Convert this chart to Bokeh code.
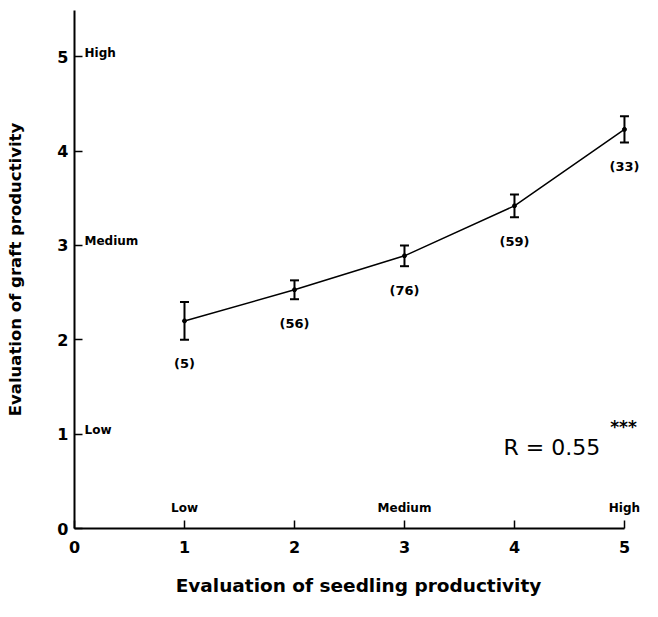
from bokeh.plotting import figure
from bokeh.models import ColumnDataSource, Whisker, TeeHead, FixedTicker, Label, Range1d
from bokeh.core.properties import value
from bokeh.embed import file_html
from bokeh.resources import INLINE

# data
seedling = [1, 2, 3, 4, 5]
graft_mean = [2.20, 2.53, 2.89, 3.42, 4.23]
graft_err = [0.20, 0.10, 0.11, 0.12, 0.14]
counts = ["(5)", "(56)", "(76)", "(59)", "(33)"]
level_names = ["Low", "Medium", "High"]
level_pos = [1, 3, 5]
tick_vals = [0, 1, 2, 3, 4, 5]

FONT = "DejaVu Sans"

p = figure(width=642, height=601, output_backend="svg", toolbar_location=None,
           x_range=Range1d(0, 5.164), y_range=Range1d(0, 5.49),
           min_border_left=74, min_border_right=0, min_border_top=10, min_border_bottom=73)
p.grid.visible = False
p.outline_line_color = None
p.background_fill_color = "white"

for ax in (p.xaxis[0], p.yaxis[0]):
    ax.ticker = FixedTicker(ticks=tick_vals)
    ax.minor_tick_line_color = None
    ax.major_tick_out = 0
    ax.major_tick_in = 8
    ax.major_tick_line_width = 1.5
    ax.axis_line_width = 2
    ax.axis_line_color = "black"
    ax.major_tick_line_color = "black"
    ax.major_label_text_font = FONT
    ax.major_label_text_font_style = "bold"
    ax.major_label_text_font_size = "16px"
    ax.major_label_text_color = "black"
    ax.axis_label_text_font = FONT
    ax.axis_label_text_font_style = "bold"
    ax.axis_label_text_color = "black"

p.xaxis.bounds = (0, 5)
p.xaxis.major_label_standoff = 12
p.xaxis.axis_label = "Evaluation of seedling productivity"
p.xaxis.axis_label_text_font_size = "18.5px"
p.xaxis.axis_label_standoff = 19
p.yaxis.major_label_standoff = 6
p.yaxis.axis_label = "Evaluation of graft productivity"
p.yaxis.axis_label_text_font_size = "16.5px"
p.yaxis.axis_label_standoff = 29

upper = [m + e for m, e in zip(graft_mean, graft_err)]
lower = [m - e for m, e in zip(graft_mean, graft_err)]
src = ColumnDataSource(dict(x=seedling, y=graft_mean, upper=upper, lower=lower, label=counts))

p.line("x", "y", source=src, line_color="black", line_width=1.5)
p.scatter("x", "y", source=src, size=4, color="black")
w = Whisker(source=src, base="x", upper="upper", lower="lower",
            line_color="black", line_width=2,
            upper_head=TeeHead(size=9, line_width=2, line_color="black"),
            lower_head=TeeHead(size=9, line_width=2, line_color="black"))
p.add_layout(w)

p.text("x", "lower", text="label", source=src, y_offset=24,
       text_align="center", text_baseline="middle",
       text_font=value(FONT), text_font_style="bold", text_font_size="13px", text_color="black")

lsrc = ColumnDataSource(dict(pos=level_pos, zero=[0, 0, 0], name=level_names))
p.text("pos", "zero", text="name", source=lsrc, y_offset=-21,
       text_align="center", text_baseline="middle",
       text_font=value(FONT), text_font_style="bold", text_font_size="12px", text_color="black")
p.text("zero", "pos", text="name", source=lsrc, x_offset=10, y_offset=-4,
       text_align="left", text_baseline="middle",
       text_font=value(FONT), text_font_style="bold", text_font_size="12px", text_color="black")

p.add_layout(Label(x=3.9, y=0.86, text="R = 0.55", text_font=FONT, text_font_size="22px",
                   text_baseline="middle", text_align="left", text_color="black"))
p.add_layout(Label(x=4.87, y=1.08, text="***", text_font=FONT, text_font_size="17px",
                   text_font_style="bold", text_baseline="middle", text_align="left",
                   text_color="black"))

open("out.html", "w").write(file_html(p, INLINE))
